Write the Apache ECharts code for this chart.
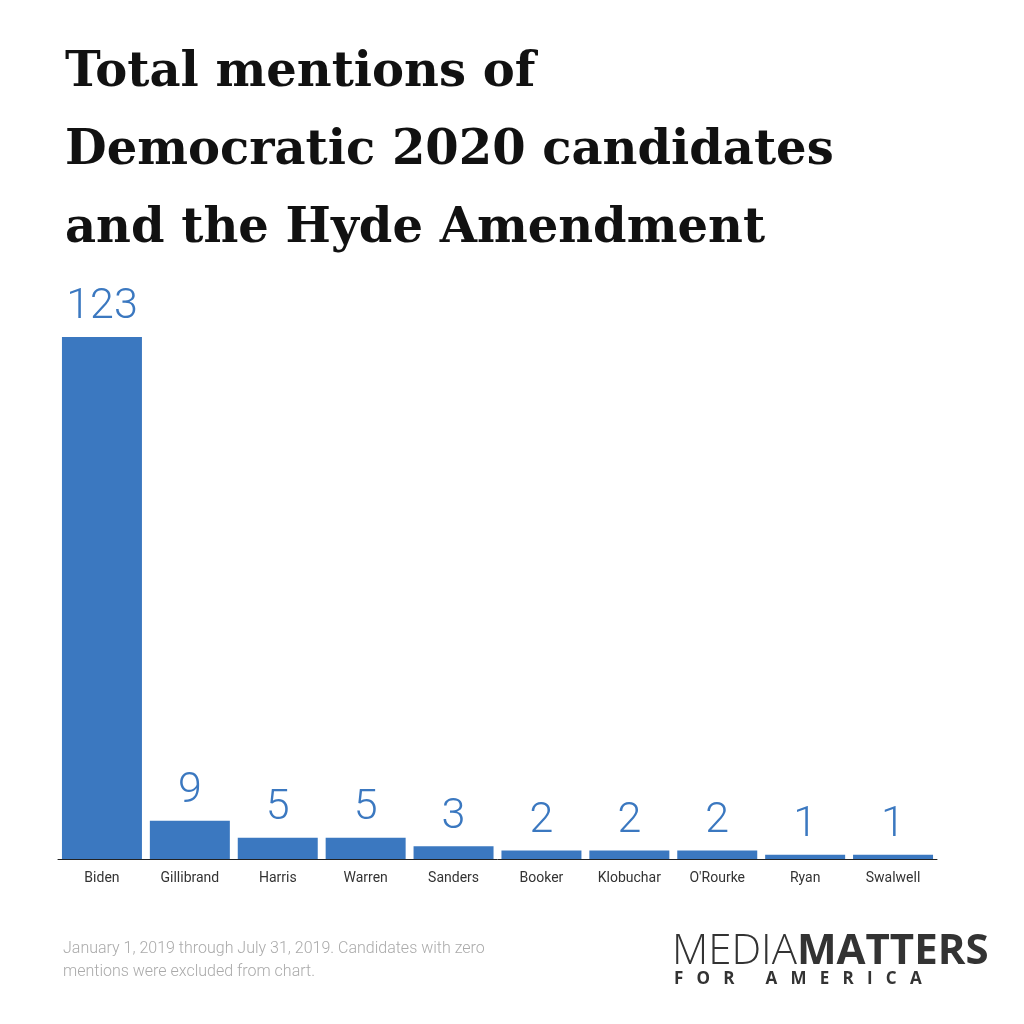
<!DOCTYPE html>
<html lang="en">
<head>
<meta charset="UTF-8">
<title>Hyde Amendment mentions</title>
<script src="https://cdn.jsdelivr.net/npm/echarts@6/dist/echarts.min.js"></script>
<style>html,body{margin:0;background:#fff}</style>
</head>
<body>
<div id="chart" style="width:1024px;height:1024px;"></div>
<script type="text/javascript">
const candidates = ['Biden', 'Gillibrand', 'Harris', 'Warren', 'Sanders', 'Booker', 'Klobuchar', "O'Rourke", 'Ryan', 'Swalwell'];
const mentions = [123, 9, 5, 5, 3, 2, 2, 2, 1, 1];

const chart = echarts.init(document.getElementById('chart'));
chart.setOption({
  backgroundColor: '#fff',
  animation: false,
  title: {
    text: 'Total mentions of\nDemocratic 2020 candidates\nand the Hyde Amendment',
    left: 60, top: 30,
    textStyle: { fontFamily: 'DejaVu Serif', fontWeight: 'bold', fontSize: 48, lineHeight: 78, color: '#111' }
  },
  grid: { left: 58, right: 87, top: 337, bottom: 165 },
  xAxis: {
    type: 'category',
    data: candidates,
    axisLine: { lineStyle: { color: '#222', width: 1 } },
    axisTick: { show: false },
    axisLabel: { color: '#333', fontSize: 14, fontFamily: 'Roboto', margin: 12 }
  },
  yAxis: { type: 'value', min: 0, max: 123, show: false },
  series: [{
    type: 'bar',
    data: mentions,
    barCategoryGap: '9%',
    itemStyle: { color: '#3b78c0' },
    label: {
      show: true, position: 'top', distance: 8,
      color: '#3b78c0', fontSize: 43, fontWeight: 300, fontFamily: 'Roboto'
    }
  }],
  graphic: [
    { type: 'text', left: 63, top: 937, style: { text: 'January 1, 2019 through July 31, 2019. Candidates with zero\nmentions were excluded from chart.', fill: '#aaa', font: '300 16px Roboto', lineHeight: 23 } },
    { type: 'text', left: 672, top: 931, style: { text: '{a|MEDIA}{b|MATTERS}', rich: { a: { font: '300 42px "Open Sans"', fill: '#333' }, b: { font: 'bold 42px "Open Sans"', fill: '#333' } } } },
    { type: 'text', left: 674, top: 971, style: { text: 'F   O   R       A   M   E   R   I   C   A', fill: '#333', font: 'bold 17px "Open Sans"' } }
  ]
});
</script>
</body>
</html>
